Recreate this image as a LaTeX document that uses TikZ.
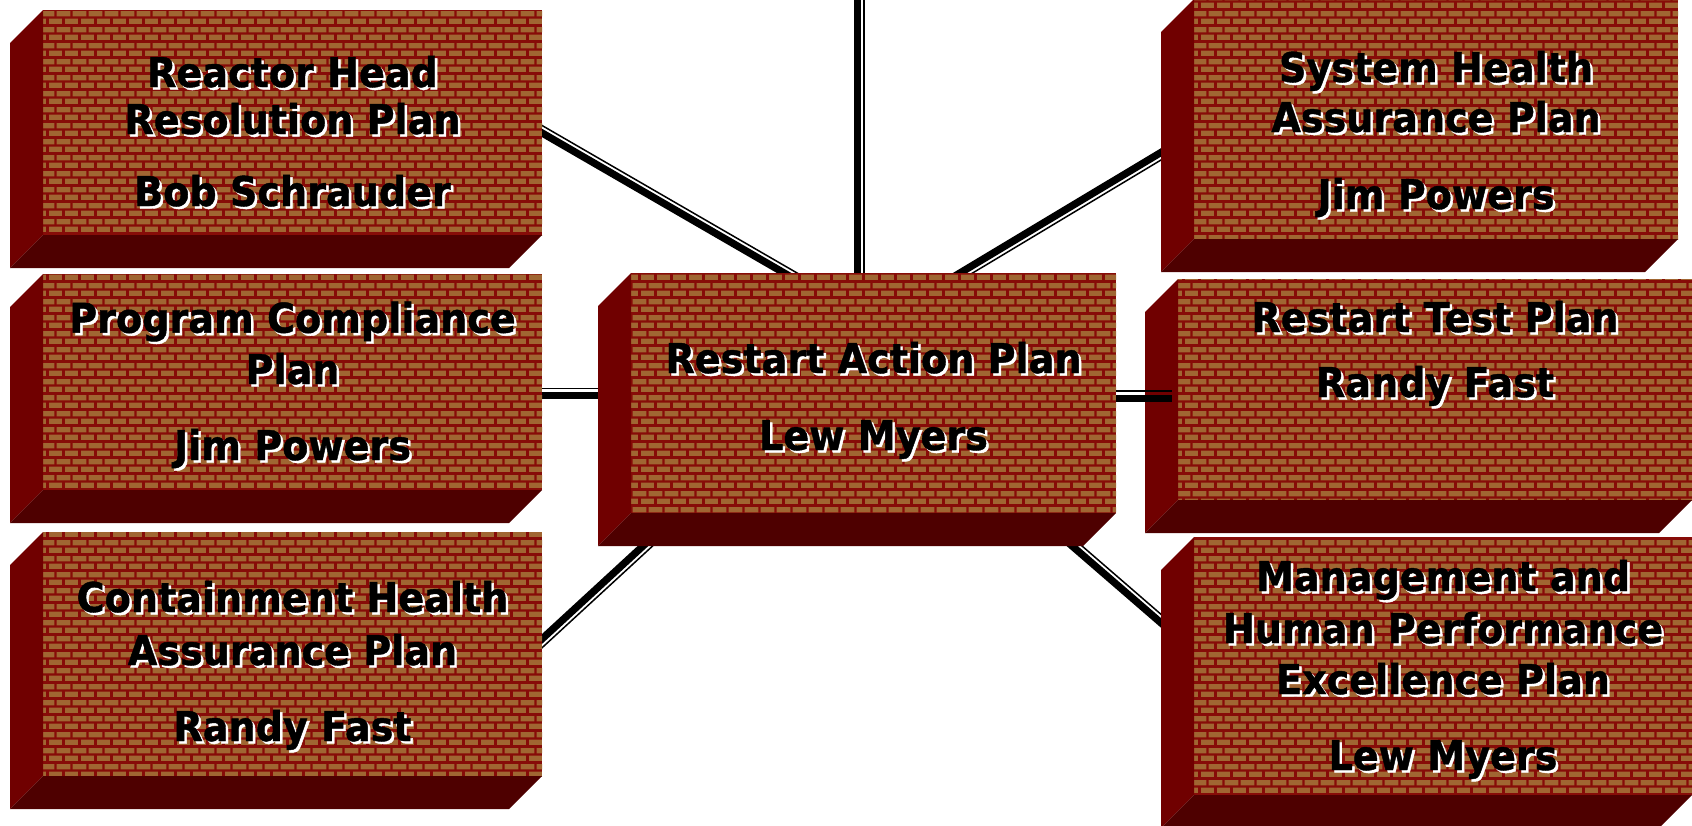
\documentclass[tikz,border=0pt]{standalone}
\usepackage{fontspec}
\newfontfamily\boxfont[FakeStretch=0.93,FakeBold=1]{DejaVu Sans}
\usetikzlibrary{patterns.meta}
\definecolor{brickcol}{RGB}{160,102,50}
\definecolor{mortar}{RGB}{135,12,8}
\definecolor{sidecol}{RGB}{112,0,0}
\definecolor{botcol}{RGB}{78,0,0}
\pgfdeclarepattern{
  name=brickwall,
  type=colored,
  bottom left={\pgfpoint{0pt}{0pt}},
  top right={\pgfpoint{16pt}{16pt}},
  tile size={\pgfpoint{16pt}{16pt}},
  code={
    \pgfsetfillcolor{brickcol}
    \pgfpathrectangle{\pgfpoint{1.25pt}{1.25pt}}{\pgfpoint{13.5pt}{5.5pt}}
    \pgfpathrectangle{\pgfpoint{0pt}{9.25pt}}{\pgfpoint{6.75pt}{5.5pt}}
    \pgfpathrectangle{\pgfpoint{9.25pt}{9.25pt}}{\pgfpoint{6.75pt}{5.5pt}}
    \pgfusepath{fill}
  }
}
\tikzset{
  face/.style={rectangle, inner sep=0pt, outer sep=0pt, preaction={fill=mortar}, pattern=brickwall},
  thickln/.style={line width=7.3pt, draw=black},
  thinln/.style={line width=1.5pt, draw=black},
  txt/.style={font=\boxfont\bfseries\fontsize{41}{51}\selectfont, inner sep=0pt, anchor=base, text=black},
}
\newcommand\brickbox[5]{%
  \node[face, minimum width={#4pt-#2pt}, minimum height={#5pt-#3pt}] (#1) at ({(#2+#4)/2},{(#3+#5)/2}) {};
  \fill[sidecol] (#1.north west) -- ++(-33,33) -- ([shift={(-33,33)}]#1.south west) -- (#1.south west) -- cycle;
  \fill[botcol] (#1.south west) -- ++(-33,33) -- ([shift={(-33,33)}]#1.south east) -- (#1.south east) -- cycle;
}
\newcommand\shtxt[3]{%
  \node[txt, text=white, xshift=2.5pt, yshift=-2.5pt] (#1s) at (#2) {#3};
  \node[txt] (#1) at (#2) {#3};
}
\newcommand\dline[5]{% name, start, end, thin shift
  \coordinate (#1a) at (#2);
  \coordinate (#1b) at (#3);
  \draw[thickln] (#1a) -- (#1b);
  \draw[thinln, transform canvas={shift={(#4,#5)}}] (#1a) -- (#1b);
}
\begin{document}
\begin{tikzpicture}[x=1pt, y=-1pt]
\useasboundingbox (0,0) rectangle (1692,825);
% connectors behind boxes
\dline{la}{530,126}{798,281}{3.25}{-5.6}
\dline{lb}{857.7,-10}{857.7,290}{6.3}{0}
\dline{lc}{943.3,283}{1175,144}{3.3}{5.6}
\dline{ld}{530,395.5}{610,395.5}{0}{-7}
\dline{lf}{530,650}{649.5,540}{4.4}{4.8}
\dline{lg}{1060,535.5}{1175,635}{4.25}{-4.9}
% boxes
\brickbox{rh}{43}{10}{542}{235}
\brickbox{pc}{43}{274}{542}{490}
\brickbox{ch}{43}{532}{542}{776}
\brickbox{ra}{631}{273}{1116}{513}
\brickbox{sh}{1194}{-1}{1678}{239}
\brickbox{rt}{1178}{279}{1692}{500}
\brickbox{mg}{1194}{537}{1692}{795}
% connector on top
\dline{le}{1116,398.3}{1172,398.3}{0}{-7.5}
% texts
\shtxt{rh1}{292.5,87}{Reactor Head}
\shtxt{rh2}{292.5,134}{Resolution Plan}
\shtxt{rh3}{292.5,206}{Bob Schrauder}
\shtxt{pc1}{292.5,332.7}{Program Compliance}
\shtxt{pc2}{292.5,384}{Plan}
\shtxt{pc3}{292.5,460}{Jim Powers}
\shtxt{ch1}{292.5,612}{Containment Health}
\shtxt{ch2}{292.5,665}{Assurance Plan}
\shtxt{ch3}{292.5,741}{Randy Fast}
\shtxt{ra1}{873.5,373}{Restart Action Plan}
\shtxt{ra2}{873.5,450}{Lew Myers}
\shtxt{sh1}{1436,82}{System Health}
\shtxt{sh2}{1436,132}{Assurance Plan}
\shtxt{sh3}{1436,209}{Jim Powers}
\shtxt{rt1}{1435,332}{Restart Test Plan}
\shtxt{rt2}{1435,397}{Randy Fast}
\shtxt{mg1}{1443,591}{Management and}
\shtxt{mg2}{1443,643}{Human Performance}
\shtxt{mg3}{1443,694}{Excellence Plan}
\shtxt{mg4}{1443,770}{Lew Myers}
\end{tikzpicture}
\end{document}
